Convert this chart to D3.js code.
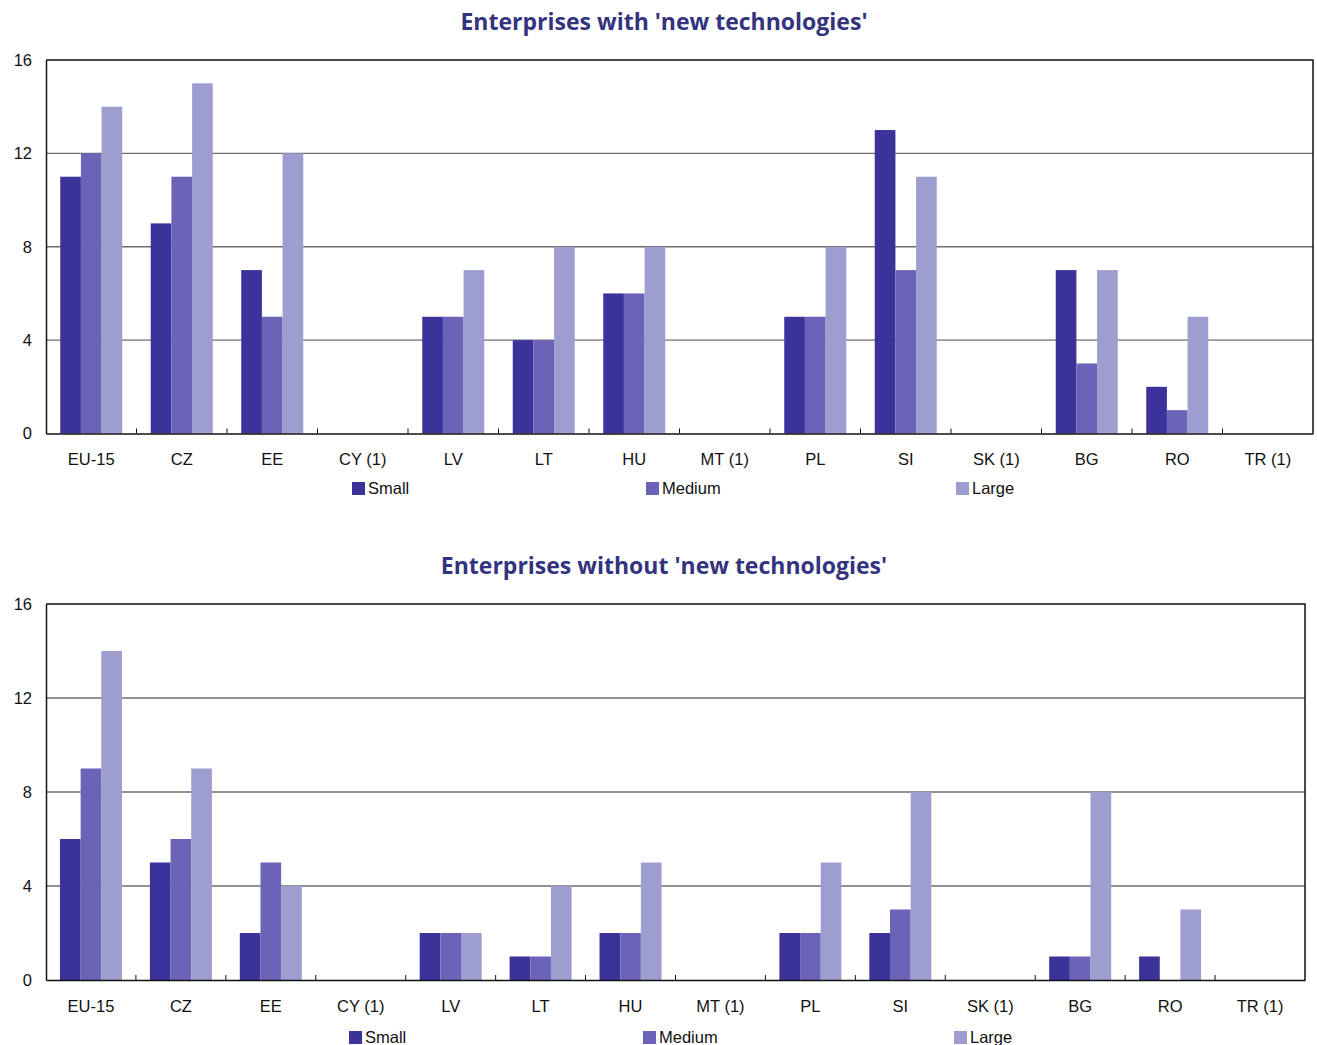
<!DOCTYPE html>
<html>
<head>
<meta charset="utf-8">
<script src="https://cdn.jsdelivr.net/npm/d3@7/dist/d3.min.js"></script>
<style>
  html, body { margin: 0; padding: 0; background: #fff; }
  svg { display: block; }
</style>
</head>
<body>
<svg id="chart" width="1317" height="1045"></svg>
<script>
// Countries along the x axis
const categories = ["EU-15", "CZ", "EE", "CY (1)", "LV", "LT", "HU", "MT (1)", "PL", "SI", "SK (1)", "BG", "RO", "TR (1)"];
const seriesNames = ["Small", "Medium", "Large"];
const seriesColors = ["#3b3399", "#6b63b8", "#9e9dd0"];
const yTicks = [0, 4, 8, 12, 16];

// Enterprises with 'new technologies' (null = no data)
const withSmall  = [11, 9, 7, null, 5, 4, 6, null, 5, 13, null, 7, 2, null];
const withMedium = [12, 11, 5, null, 5, 4, 6, null, 5, 7, null, 3, 1, null];
const withLarge  = [14, 15, 12, null, 7, 8, 8, null, 8, 11, null, 7, 5, null];

// Enterprises without 'new technologies'
const withoutSmall  = [6, 5, 2, null, 2, 1, 2, null, 2, 2, null, 1, 1, null];
const withoutMedium = [9, 6, 5, null, 2, 1, 2, null, 2, 3, null, 1, 0, null];
const withoutLarge  = [14, 9, 4, null, 2, 4, 5, null, 5, 8, null, 8, 3, null];

const svg = d3.select("#chart");
const labelFont = "'Liberation Sans', Arial, sans-serif";
const labelSize = 16.5;

function drawPanel(cfg) {
  const g = svg.append("g");
  const x = d3.scaleBand().domain(categories).range([cfg.left, cfg.right]).paddingInner(0).paddingOuter(0);
  const groupW = 62;
  const x1 = d3.scaleBand().domain(seriesNames).range([0, groupW]);
  const y = d3.scaleLinear().domain([0, 16]).range([cfg.bottom, cfg.top]);

  // Title
  g.append("text")
    .attr("x", cfg.titleX).attr("y", cfg.titleY)
    .attr("text-anchor", "middle")
    .attr("font-family", "'Open Sans', sans-serif")
    .attr("font-weight", "bold")
    .attr("font-size", 23)
    .attr("fill", "#333380")
    .text(cfg.title);

  // Gridlines
  g.append("g").selectAll("line")
    .data(yTicks.filter(t => t > 0 && t < 16))
    .join("line")
    .attr("x1", cfg.left).attr("x2", cfg.right)
    .attr("y1", d => y(d)).attr("y2", d => y(d))
    .attr("stroke", "#6e6e6e").attr("stroke-width", 1.3);

  // Bars
  const rows = categories.map((c, i) => ({ c, vals: cfg.series.map(s => s[i]) }));
  const grp = g.append("g").selectAll("g")
    .data(rows).join("g")
    .attr("transform", d => `translate(${x(d.c) + (x.bandwidth() - groupW) / 2},0)`);
  grp.selectAll("rect")
    .data(d => d.vals.map((v, k) => ({ k, v })).filter(e => e.v !== null && e.v > 0))
    .join("rect")
    .attr("x", e => x1(seriesNames[e.k]))
    .attr("width", x1.bandwidth())
    .attr("y", e => y(e.v))
    .attr("height", e => y(0) - y(e.v))
    .attr("fill", e => seriesColors[e.k]);

  // Frame: top & right border
  g.append("path")
    .attr("d", `M${cfg.left},${y(16)}H${cfg.right}V${y(0)}`)
    .attr("fill", "none").attr("stroke", "#111").attr("stroke-width", 1.5);

  // Y axis
  const yAxis = d3.axisLeft(y).tickValues(yTicks).tickSize(0).tickPadding(14);
  const ya = g.append("g").attr("transform", `translate(${cfg.left},0)`).call(yAxis);
  ya.select(".domain").attr("stroke", "#111").attr("stroke-width", 1.5);
  ya.selectAll("text").attr("font-family", labelFont).attr("font-size", labelSize).attr("fill", "#111");

  // X axis with small inward ticks at category boundaries
  const xAxis = d3.axisBottom(x).tickSize(0).tickPadding(cfg.labelPad);
  const xa = g.append("g").attr("transform", `translate(0,${cfg.bottom})`).call(xAxis);
  xa.select(".domain").attr("stroke", "#111").attr("stroke-width", 1.5);
  xa.selectAll("text").attr("font-family", labelFont).attr("font-size", labelSize).attr("fill", "#111");
  g.append("g").selectAll("line")
    .data(categories.slice(1))
    .join("line")
    .attr("x1", d => x(d)).attr("x2", d => x(d))
    .attr("y1", cfg.bottom).attr("y2", cfg.bottom - 5)
    .attr("stroke", "#111").attr("stroke-width", 1);

  // Legend
  const lg = g.append("g").selectAll("g")
    .data(seriesNames).join("g")
    .attr("transform", (d, i) => `translate(${cfg.legendX[i]},${cfg.legendY})`);
  lg.append("rect").attr("width", 13).attr("height", 13).attr("fill", (d, i) => seriesColors[i]);
  lg.append("text").attr("x", 16).attr("y", 11.5)
    .attr("font-family", labelFont).attr("font-size", labelSize).attr("fill", "#111")
    .text(d => d);
}

drawPanel({
  title: "Enterprises with 'new technologies'",
  titleX: 664, titleY: 30,
  left: 46, right: 1313, top: 60, bottom: 433.5,
  labelPad: 20,
  legendX: [352, 646, 956], legendY: 482,
  series: [withSmall, withMedium, withLarge]
});

drawPanel({
  title: "Enterprises without 'new technologies'",
  titleX: 664, titleY: 574,
  left: 46, right: 1305, top: 604, bottom: 980,
  labelPad: 20,
  legendX: [349, 643, 954], legendY: 1031,
  series: [withoutSmall, withoutMedium, withoutLarge]
});
</script>
</body>
</html>
